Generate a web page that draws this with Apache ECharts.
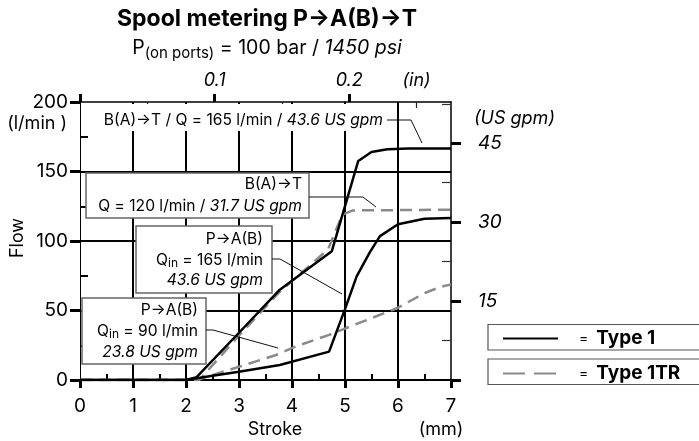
<!DOCTYPE html>
<html>
<head>
<meta charset="utf-8">
<script src="https://cdn.jsdelivr.net/npm/echarts@6/dist/echarts.min.js"></script>
<style>
html,body{margin:0;padding:0;background:#fff;}
#chart{width:699px;height:441px;}
</style>
</head>
<body>
<div id="chart"></div>
<script>
// ---- data (stroke in mm, flow in l/min) ----
const strokeType1BT = [0, 2.0, 2.2, 3.0, 3.77, 4.75, 5.25, 5.5, 5.8, 6.2, 7.0];
const flowType1BT   = [0, 0, 2, 34, 65, 92.6, 157.6, 164, 166, 166.5, 166.5];

const strokeType1PA = [0, 2.0, 2.5, 3.0, 3.77, 4.7, 5.0, 5.22, 5.47, 5.66, 6.0, 6.5, 7.0];
const flowType1PA   = [0, 0, 3, 6, 10.8, 20.4, 51, 74.6, 92, 103.5, 112, 116, 116.5];

const strokeType1TRBT = [0, 2.25, 3.0, 3.77, 4.68, 4.95, 5.15, 7.0];
const flowType1TRBT   = [0, 0, 32, 63.5, 94, 119, 122, 122.5];

const strokeType1TRPA = [0, 2.2, 3.0, 3.7, 4.1, 4.7, 5.0, 5.5, 6.0, 6.5, 6.8, 7.0];
const flowType1TRPA   = [0, 0, 9.5, 18, 24.5, 32.5, 37, 44.5, 52, 62.5, 67, 68.8];

// ---- axis tick values ----
const strokeMinorTicks = [0.5, 1.5, 2.5, 3.5, 4.5, 5.5, 6.5];
const flowMinorTicks = [25, 75, 125, 175];
const inchMajorTicks = [0, 0.1, 0.2];
const inchMinorTicks = [0.05, 0.15, 0.25];
const inchLabels = [0.1, 0.2, 0.25];
const gpmMajorTicks = [0, 15, 30, 45];
const gpmMinorTicks = [7.5, 22.5, 37.5, 52.5];
const gpmLabels = [15, 30, 45];

const MM_PER_IN = 25.4;
const LPM_PER_GPM = 3.785411784;
const FONT = 'Inter, "Liberation Sans", Arial, sans-serif';
const AF = 15.6; // annotation font size

function zip(xs, ys) { return xs.map((x, i) => [x, ys[i]]); }

const chart = echarts.init(document.getElementById('chart'));

const black = '#000';
const gray = '#8a8a8a';

function legendCfg(name, top) {
  return {
    data: [name], left: 488, top: top, orient: 'horizontal', selectedMode: false,
    itemWidth: 55, itemHeight: 14, padding: [5, 10, 5, 14],
    itemStyle: { opacity: 0, borderWidth: 0 },
    formatter: n => '{e|=}{b|' + n + '}',
    textStyle: { fontFamily: FONT, color: black,
      rich: { e: { fontSize: 14, padding: [0, 8, 0, 16], fontFamily: FONT, color: black },
              b: { fontSize: 19, fontWeight: 'bold', fontFamily: FONT, color: black } } }
  };
}

const option = {
  animation: false,
  backgroundColor: '#fff',
  title: {
    text: 'Spool metering P→A(B)→T',
    subtext: '{n|P}{s|(on ports)}{n| = 100 bar / }{i|1450 psi}',
    left: 262, textAlign: 'center', top: 3, itemGap: 5,
    textStyle: { fontFamily: FONT, fontWeight: 'bold', fontSize: 23, color: black },
    subtextStyle: {
      fontFamily: FONT, color: black,
      rich: {
        n: { fontFamily: FONT, fontSize: 19.5, color: black },
        s: { fontFamily: FONT, fontSize: 15, color: black, padding: [10, 0, 0, 0] },
        i: { fontFamily: FONT, fontSize: 19.5, fontStyle: 'italic', color: black }
      }
    }
  },
  grid: { left: 80, right: 248, top: 102, bottom: 61, containLabel: false },
  legend: [
    legendCfg('Type 1', 324),
    Object.assign(legendCfg('Type 1TR', 359), { lineStyle: { type: [22, 9] } })
  ],
  xAxis: [
    {
      type: 'value', position: 'bottom', min: 0, max: 7, interval: 1,
      axisLine: { show: true, onZero: false, lineStyle: { color: black, width: 2 } },
      axisTick: { show: true, length: 8, lineStyle: { color: black, width: 3 } },
      splitLine: { show: true, showMinLine: false, showMaxLine: false, lineStyle: { color: black, width: 2 } },
      axisLabel: { fontFamily: FONT, fontSize: 19, color: black, margin: 17 }
    },
    {
      type: 'value', position: 'top', min: 0, max: 7 / MM_PER_IN,
      axisLine: { show: true, onZero: false, lineStyle: { color: black, width: 1.5 } },
      axisTick: { show: true, customValues: inchMajorTicks, length: 8, lineStyle: { color: black, width: 3 } },
      splitLine: { show: false },
      axisLabel: {
        customValues: inchLabels, fontFamily: FONT, fontSize: 18, fontStyle: 'italic', color: black, margin: 12,
        formatter: v => (Math.abs(v - 0.25) < 1e-9 ? '{n|(}{i|in}{n|)}' : '{i|' + v.toFixed(1) + '}'),
        rich: { n: { fontFamily: FONT, fontSize: 18, color: black }, i: { fontFamily: FONT, fontSize: 18, fontStyle: 'italic', color: black } }
      }
    },
    {
      type: 'value', position: 'top', min: 0, max: 7 / MM_PER_IN,
      axisLine: { show: false, onZero: false },
      axisTick: { show: true, inside: true, customValues: inchMinorTicks, length: 6, lineStyle: { color: '#222', width: 1.2 } },
      splitLine: { show: false },
      axisLabel: { show: false }
    },
    {
      type: 'value', position: 'bottom', min: 0, max: 7,
      axisLine: { show: false, onZero: false },
      axisTick: { show: true, inside: true, customValues: strokeMinorTicks, length: 6, lineStyle: { color: black, width: 2 } },
      splitLine: { show: false },
      axisLabel: { show: false }
    }
  ],
  yAxis: [
    {
      type: 'value', position: 'left', min: 0, max: 200, interval: 50,
      axisLine: { show: true, onZero: false, lineStyle: { color: black, width: 1 } },
      axisTick: { show: true, length: 10, lineStyle: { color: black, width: 3 } },
      splitLine: { show: true, showMinLine: false, showMaxLine: false, lineStyle: { color: black, width: 2 } },
      axisLabel: { fontFamily: FONT, fontSize: 19, color: black, margin: 12 }
    },
    {
      type: 'value', position: 'right', min: 0, max: 200 / LPM_PER_GPM,
      axisLine: { show: true, onZero: false, lineStyle: { color: black, width: 1.5 } },
      axisTick: { show: true, customValues: gpmMajorTicks, length: 10, lineStyle: { color: black, width: 3 } },
      splitLine: { show: false },
      axisLabel: { customValues: gpmLabels, fontFamily: FONT, fontSize: 19, fontStyle: 'italic', color: black, margin: 27 }
    },
    {
      type: 'value', position: 'right', min: 0, max: 200 / LPM_PER_GPM,
      axisLine: { show: false, onZero: false },
      axisTick: { show: true, inside: true, customValues: gpmMinorTicks, length: 9, lineStyle: { color: '#333', width: 1.2 } },
      splitLine: { show: false },
      axisLabel: { show: false }
    },
    {
      type: 'value', position: 'left', min: 0, max: 200,
      axisLine: { show: false, onZero: false },
      axisTick: { show: true, inside: true, customValues: flowMinorTicks, length: 8, lineStyle: { color: black, width: 2 } },
      splitLine: { show: false },
      axisLabel: { show: false }
    }
  ],
  series: [
    { name: 'Type 1TR', type: 'line', xAxisIndex: 0, yAxisIndex: 0, symbol: 'none', z: 3,
      data: zip(strokeType1TRBT, flowType1TRBT),
      lineStyle: { color: gray, width: 2.5, type: [12, 7], cap: 'butt' }, itemStyle: { color: gray } },
    { name: 'Type 1TR', type: 'line', xAxisIndex: 0, yAxisIndex: 0, symbol: 'none', z: 3,
      data: zip(strokeType1TRPA, flowType1TRPA),
      lineStyle: { color: gray, width: 2.5, type: [12, 7], cap: 'butt' }, itemStyle: { color: gray } },
    { name: 'Type 1', type: 'line', xAxisIndex: 0, yAxisIndex: 0, symbol: 'none', z: 4,
      data: zip(strokeType1BT, flowType1BT),
      lineStyle: { color: black, width: 2.5 }, itemStyle: { color: black } },
    { name: 'Type 1', type: 'line', xAxisIndex: 0, yAxisIndex: 0, symbol: 'none', z: 4,
      data: zip(strokeType1PA, flowType1PA),
      lineStyle: { color: black, width: 2.5 }, itemStyle: { color: black } }
  ],
  graphic: [
    // legend boxes (run off the right edge like the reference)
    { type: 'rect', z: 1, shape: { x: 488, y: 324.5, width: 260, height: 25.5 }, style: { fill: '#fff', stroke: '#555', lineWidth: 1.2 } },
    { type: 'rect', z: 1, shape: { x: 488, y: 359, width: 260, height: 25.5 }, style: { fill: '#fff', stroke: '#555', lineWidth: 1.2 } },

    // axis names
    { type: 'text', x: 67, y: 124, z: 50, style: { text: '(l/min )', align: 'right', verticalAlign: 'middle', fontFamily: FONT, fontSize: 18, fill: black } },
    { type: 'text', x: 18, y: 238, z: 50, rotation: Math.PI / 2, style: { text: 'Flow', align: 'center', verticalAlign: 'middle', fontFamily: FONT, fontSize: 18, fill: black } },
    { type: 'text', x: 275, y: 430, z: 50, style: { text: 'Stroke', align: 'center', verticalAlign: 'middle', fontFamily: FONT, fontSize: 18, fill: black } },
    { type: 'text', x: 441, y: 430, z: 50, style: { text: '(mm)', align: 'center', verticalAlign: 'middle', fontFamily: FONT, fontSize: 18, fill: black } },
    { type: 'text', x: 474, y: 119, z: 50, style: { text: '(US gpm)', align: 'left', verticalAlign: 'middle', fontFamily: FONT, fontSize: 18, fontStyle: 'italic', fill: black } },

    // annotation 1 (no border, white background)
    { type: 'rect', z: 40, shape: { x: 82, y: 104, width: 304, height: 27 }, style: { fill: '#fff' } },
    { type: 'text', x: 383, y: 120, z: 50, style: {
        text: '{n|B(A)→T / Q = 165 l/min / }{i|43.6 US gpm}', align: 'right', verticalAlign: 'middle',
        rich: { n: { fontFamily: FONT, fontSize: AF, fill: black }, i: { fontFamily: FONT, fontSize: AF, fontStyle: 'italic', fill: black } } } },
    { type: 'polyline', z: 50, shape: { points: [[387, 120], [411, 120], [422, 143]] }, style: { stroke: '#111', lineWidth: 1, fill: null } },

    // annotation 2
    { type: 'rect', z: 40, shape: { x: 86, y: 173, width: 223, height: 45 }, style: { fill: '#fff', stroke: '#666', lineWidth: 1.5 } },
    { type: 'text', x: 302, y: 195, z: 50, style: {
        text: '{n|B(A)→T}\n{n|Q = 120 l/min / }{i|31.7 US gpm}', align: 'right', verticalAlign: 'middle',
        rich: { n: { fontFamily: FONT, fontSize: AF, lineHeight: 22, fill: black }, i: { fontFamily: FONT, fontSize: AF, lineHeight: 22, fontStyle: 'italic', fill: black } } } },
    { type: 'polyline', z: 50, shape: { points: [[309, 197], [363, 197], [376, 207]] }, style: { stroke: '#111', lineWidth: 1, fill: null } },

    // annotation 3
    { type: 'rect', z: 40, shape: { x: 136, y: 226, width: 136, height: 67 }, style: { fill: '#fff', stroke: '#666', lineWidth: 1.5 } },
    { type: 'text', x: 263, y: 260, z: 50, style: {
        text: '{n|P→A(B)}\n{n|Q}{s|in}{n| = 165 l/min}\n{i|43.6 US gpm}', align: 'right', verticalAlign: 'middle',
        rich: { n: { fontFamily: FONT, fontSize: AF, lineHeight: 20.5, fill: black },
                s: { fontFamily: FONT, fontSize: 12, lineHeight: 20.5, padding: [7, 0, 0, 0], fill: black },
                i: { fontFamily: FONT, fontSize: AF, lineHeight: 20.5, fontStyle: 'italic', fill: black } } } },
    { type: 'polyline', z: 50, shape: { points: [[272, 259], [280, 259], [342, 294]] }, style: { stroke: '#111', lineWidth: 1, fill: null } },

    // annotation 4
    { type: 'rect', z: 40, shape: { x: 82, y: 298, width: 124, height: 66 }, style: { fill: '#fff', stroke: '#666', lineWidth: 1.5 } },
    { type: 'text', x: 198, y: 331, z: 50, style: {
        text: '{n|P→A(B)}\n{n|Q}{s|in}{n| = 90 l/min}\n{i|23.8 US gpm}', align: 'right', verticalAlign: 'middle',
        rich: { n: { fontFamily: FONT, fontSize: AF, lineHeight: 21, fill: black },
                s: { fontFamily: FONT, fontSize: 12, lineHeight: 21, padding: [7, 0, 0, 0], fill: black },
                i: { fontFamily: FONT, fontSize: AF, lineHeight: 21, fontStyle: 'italic', fill: black } } } },
    { type: 'polyline', z: 50, shape: { points: [[206, 330], [213, 330], [278, 348]] }, style: { stroke: '#111', lineWidth: 1, fill: null } }
  ]
};

chart.setOption(option);
</script>
</body>
</html>
